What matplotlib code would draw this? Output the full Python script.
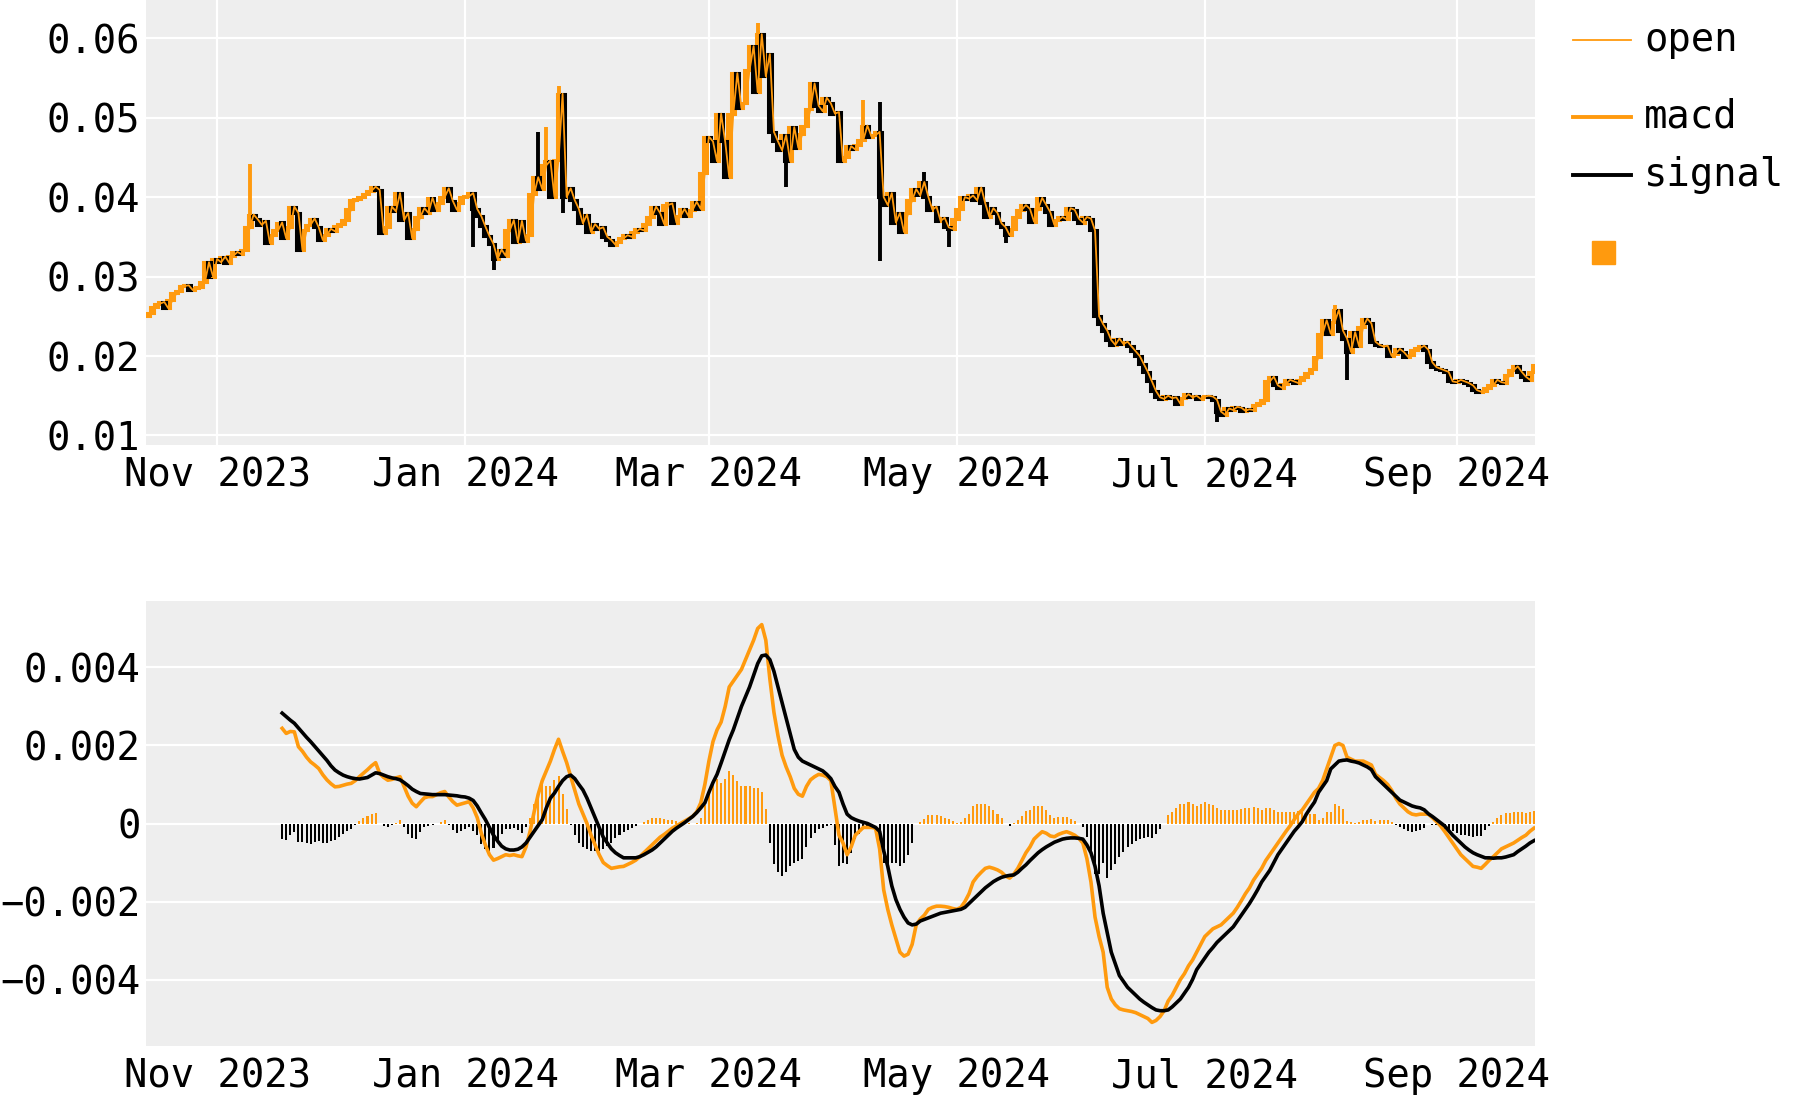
import matplotlib
matplotlib.use("Agg")
import matplotlib.pyplot as plt
from matplotlib.lines import Line2D
from matplotlib.patches import Rectangle
import numpy as np
import pandas as pd

ORANGE = "#FF9A0E"
BLACK = "#000000"
BG = "#EEEEEE"

plt.rcParams["font.family"] = ["DejaVu Sans Mono", "DejaVu Sans"]

# daily closes
close_oct = [0.0254, 0.0262, 0.0266, 0.0268, 0.0260, 0.0270, 0.0279, 0.0282, 0.0288, 0.0289,
             0.0283, 0.0285, 0.0287, 0.0293, 0.0318, 0.0300, 0.0322]
close_nov = [0.0318, 0.0325, 0.0317, 0.0326, 0.0331, 0.0328, 0.0333, 0.0362, 0.0378, 0.0372,
             0.0365, 0.0370, 0.0342, 0.0352, 0.0358, 0.0368, 0.0348, 0.0362, 0.0388, 0.0380,
             0.0333, 0.0358, 0.0365, 0.0373, 0.0362, 0.0346, 0.0352, 0.0360, 0.0357, 0.0364]
close_dec = [0.0366, 0.0371, 0.0385, 0.0396, 0.0398, 0.0400, 0.0404, 0.0408, 0.0413, 0.0409,
             0.0355, 0.0362, 0.0388, 0.0382, 0.0405, 0.0371, 0.0380, 0.0348, 0.0360, 0.0375,
             0.0386, 0.0380, 0.0399, 0.0384, 0.0392, 0.0400, 0.0411, 0.0395, 0.0384, 0.0392,
             0.0400]
close_jan = [0.0401, 0.0405, 0.0385, 0.0376, 0.0363, 0.0351, 0.0341, 0.0322, 0.0334, 0.0326,
             0.0358, 0.0371, 0.0343, 0.0370, 0.0345, 0.0352, 0.0404, 0.0425, 0.0410, 0.0440,
             0.0446, 0.0400, 0.0447, 0.0530, 0.0400, 0.0411, 0.0396, 0.0385, 0.0367, 0.0378,
             0.0356]
close_feb = [0.0366, 0.0360, 0.0362, 0.0350, 0.0346, 0.0340, 0.0344, 0.0348, 0.0352, 0.0350,
             0.0356, 0.0360, 0.0358, 0.0366, 0.0375, 0.0388, 0.0380, 0.0366, 0.0390, 0.0392,
             0.0368, 0.0376, 0.0385, 0.0376, 0.0384, 0.0394, 0.0385, 0.0430, 0.0476]
close_mar = [0.0470, 0.0445, 0.0505, 0.0470, 0.0425, 0.0505, 0.0556, 0.0512, 0.0518, 0.0560,
             0.0590, 0.0532, 0.0605, 0.0552, 0.0580, 0.0482, 0.0470, 0.0459, 0.0478, 0.0445,
             0.0488, 0.0462, 0.0480, 0.0490, 0.0511, 0.0543, 0.0515, 0.0508, 0.0525, 0.0518,
             0.0505]
close_apr = [0.0507, 0.0445, 0.0450, 0.0464, 0.0460, 0.0466, 0.0472, 0.0490, 0.0476, 0.0478,
             0.0482, 0.0400, 0.0390, 0.0405, 0.0368, 0.0380, 0.0356, 0.0380, 0.0396, 0.0410,
             0.0402, 0.0419, 0.0400, 0.0384, 0.0388, 0.0370, 0.0374, 0.0362, 0.0360, 0.0372]
close_may = [0.0385, 0.0400, 0.0398, 0.0402, 0.0396, 0.0412, 0.0392, 0.0375, 0.0386, 0.0380,
             0.0367, 0.0362, 0.0352, 0.0360, 0.0375, 0.0384, 0.0390, 0.0385, 0.0369, 0.0385,
             0.0399, 0.0390, 0.0381, 0.0365, 0.0371, 0.0375, 0.0372, 0.0386, 0.0384, 0.0373,
             0.0368]
close_jun = [0.0375, 0.0373, 0.0358, 0.0250, 0.0240, 0.0232, 0.0220, 0.0214, 0.0222, 0.0215,
             0.0218, 0.0212, 0.0206, 0.0200, 0.0190, 0.0180, 0.0168, 0.0156, 0.0148, 0.0146,
             0.0150, 0.0147, 0.0148, 0.0140, 0.0147, 0.0152, 0.0148, 0.0150, 0.0146, 0.0149]
close_jul = [0.0150, 0.0149, 0.0145, 0.0130, 0.0126, 0.0134, 0.0132, 0.0136, 0.0135, 0.0131,
             0.0133, 0.0132, 0.0138, 0.0141, 0.0145, 0.0168, 0.0174, 0.0163, 0.0160, 0.0165,
             0.0170, 0.0168, 0.0166, 0.0170, 0.0174, 0.0178, 0.0184, 0.0199, 0.0228, 0.0245,
             0.0228]
close_aug = [0.0243, 0.0258, 0.0232, 0.0222, 0.0205, 0.0230, 0.0212, 0.0237, 0.0247, 0.0241,
             0.0218, 0.0214, 0.0212, 0.0213, 0.0200, 0.0203, 0.0209, 0.0205, 0.0199, 0.0201,
             0.0208, 0.0210, 0.0213, 0.0208, 0.0192, 0.0186, 0.0184, 0.0182, 0.0180, 0.0168,
             0.0167]
close_sep = [0.0170, 0.0168, 0.0166, 0.0163, 0.0157, 0.0155, 0.0156, 0.0160, 0.0163, 0.0170,
             0.0167, 0.0166, 0.0176, 0.0182, 0.0187, 0.0180, 0.0174, 0.0170, 0.0180, 0.0189]
first_open = 0.0250

# wicks that stick out of the bodies
hi_dates = ["2023-11-09", "2024-01-19", "2024-01-21", "2024-01-24", "2024-03-13",
            "2024-04-08", "2024-04-12", "2024-04-23", "2024-08-02"]
hi_vals = [0.0441, 0.0482, 0.0488, 0.0540, 0.0619, 0.0522, 0.0520, 0.0432, 0.0264]
lo_dates = ["2023-10-31", "2024-01-03", "2024-01-08", "2024-01-25", "2024-03-20",
            "2024-04-12", "2024-04-29", "2024-05-13", "2024-07-04", "2024-08-05"]
lo_vals = [0.0298, 0.0337, 0.0308, 0.0380, 0.0413, 0.0320, 0.0337, 0.0342, 0.0117, 0.0170]

# macd / signal, daily from 2023-11-17
macd_start = "2023-11-17"
macd = [
    0.00244, 0.00231, 0.00236, 0.00235, 0.00197, 0.00185, 0.00170, 0.00158, 0.00150, 0.00141,
    0.00125, 0.00112, 0.00102, 0.00094, 0.00095, 0.00098, 0.00101, 0.00103, 0.00110, 0.00120,
    0.00129, 0.00138, 0.00148, 0.00156, 0.00128, 0.00118, 0.00111, 0.00113, 0.00117, 0.00120,
    0.00095, 0.00070, 0.00052, 0.00043, 0.00055, 0.00066, 0.00069, 0.00069, 0.00074, 0.00079,
    0.00082, 0.00068, 0.00056, 0.00047, 0.00050, 0.00053, 0.00056, 0.00040, 0.00015, -0.00025,
    -0.00055, -0.00080, -0.00094, -0.00090, -0.00085, -0.00080, -0.00082, -0.00080, -0.00083, -0.00085,
    -0.00060, -0.00020, 0.00030, 0.00075, 0.00110, 0.00135, 0.00160, 0.00190, 0.00216, 0.00185,
    0.00156, 0.00120, 0.00085, 0.00050, 0.00025, 0.00000, -0.00030, -0.00055, -0.00080, -0.00100,
    -0.00108, -0.00115, -0.00113, -0.00111, -0.00110, -0.00105, -0.00100, -0.00094, -0.00085, -0.00075,
    -0.00065, -0.00055, -0.00045, -0.00035, -0.00028, -0.00020, -0.00012, -0.00006, 0.00000, 0.00006,
    0.00012, 0.00018, 0.00030, 0.00053, 0.00100, 0.00160, 0.00210, 0.00240, 0.00260, 0.00300,
    0.00350, 0.00365, 0.00380, 0.00395, 0.00420, 0.00445, 0.00470, 0.00500, 0.00510, 0.00470,
    0.00370, 0.00285, 0.00225, 0.00175, 0.00145, 0.00120, 0.00090, 0.00075, 0.00070, 0.00095,
    0.00112, 0.00120, 0.00126, 0.00124, 0.00120, 0.00110, 0.00040, -0.00030, -0.00050, -0.00080,
    -0.00060, -0.00030, -0.00020, -0.00010, -0.00010, -0.00010, -0.00012, -0.00065, -0.00170, -0.00220,
    -0.00260, -0.00295, -0.00330, -0.00340, -0.00335, -0.00310, -0.00260, -0.00245, -0.00235, -0.00220,
    -0.00215, -0.00212, -0.00212, -0.00213, -0.00215, -0.00218, -0.00220, -0.00215, -0.00200, -0.00180,
    -0.00150, -0.00136, -0.00125, -0.00115, -0.00112, -0.00115, -0.00119, -0.00125, -0.00135, -0.00140,
    -0.00130, -0.00115, -0.00095, -0.00075, -0.00060, -0.00040, -0.00030, -0.00021, -0.00025, -0.00032,
    -0.00034, -0.00028, -0.00024, -0.00021, -0.00025, -0.00030, -0.00038, -0.00050, -0.00090, -0.00150,
    -0.00240, -0.00290, -0.00330, -0.00420, -0.00450, -0.00465, -0.00475, -0.00478, -0.00480, -0.00482,
    -0.00485, -0.00490, -0.00495, -0.00500, -0.00510, -0.00505, -0.00495, -0.00480, -0.00455, -0.00440,
    -0.00420, -0.00400, -0.00385, -0.00365, -0.00350, -0.00330, -0.00310, -0.00290, -0.00280, -0.00270,
    -0.00265, -0.00260, -0.00250, -0.00240, -0.00230, -0.00215, -0.00198, -0.00180, -0.00165, -0.00145,
    -0.00130, -0.00115, -0.00095, -0.00080, -0.00065, -0.00050, -0.00035, -0.00020, -0.00006, 0.00010,
    0.00025, 0.00035, 0.00050, 0.00065, 0.00080, 0.00090, 0.00110, 0.00140, 0.00170, 0.00200,
    0.00205, 0.00200, 0.00170, 0.00165, 0.00160, 0.00160, 0.00160, 0.00155, 0.00150, 0.00126,
    0.00118, 0.00110, 0.00100, 0.00085, 0.00065, 0.00050, 0.00040, 0.00030, 0.00024, 0.00022,
    0.00024, 0.00024, 0.00024, 0.00015, 0.00005, -0.00006, -0.00020, -0.00035, -0.00050, -0.00065,
    -0.00080, -0.00090, -0.00100, -0.00110, -0.00112, -0.00115, -0.00105, -0.00094, -0.00085, -0.00075,
    -0.00065, -0.00060, -0.00055, -0.00050, -0.00043, -0.00036, -0.00030, -0.00020, -0.00012,
]
signal = [
    0.00283, 0.00274, 0.00265, 0.00257, 0.00245, 0.00233, 0.00221, 0.00210, 0.00198, 0.00186,
    0.00174, 0.00162, 0.00148, 0.00137, 0.00130, 0.00124, 0.00120, 0.00117, 0.00115, 0.00114,
    0.00116, 0.00118, 0.00124, 0.00130, 0.00128, 0.00124, 0.00120, 0.00117, 0.00115, 0.00112,
    0.00105, 0.00097, 0.00088, 0.00082, 0.00077, 0.00076, 0.00075, 0.00074, 0.00074, 0.00074,
    0.00074, 0.00073, 0.00072, 0.00071, 0.00069, 0.00068, 0.00065, 0.00059, 0.00045, 0.00027,
    0.00010, -0.00010, -0.00030, -0.00045, -0.00058, -0.00065, -0.00068, -0.00068, -0.00066, -0.00060,
    -0.00050, -0.00035, -0.00020, -0.00005, 0.00010, 0.00040, 0.00065, 0.00078, 0.00095, 0.00110,
    0.00120, 0.00124, 0.00115, 0.00100, 0.00086, 0.00065, 0.00040, 0.00015, -0.00010, -0.00035,
    -0.00050, -0.00065, -0.00075, -0.00082, -0.00088, -0.00088, -0.00088, -0.00088, -0.00085, -0.00080,
    -0.00074, -0.00068, -0.00060, -0.00050, -0.00040, -0.00030, -0.00020, -0.00012, -0.00005, 0.00002,
    0.00010, 0.00018, 0.00028, 0.00040, 0.00053, 0.00080, 0.00105, 0.00126, 0.00155, 0.00185,
    0.00215, 0.00240, 0.00270, 0.00300, 0.00325, 0.00350, 0.00380, 0.00410, 0.00430, 0.00432,
    0.00420, 0.00390, 0.00350, 0.00310, 0.00270, 0.00230, 0.00190, 0.00170, 0.00160, 0.00155,
    0.00150, 0.00145, 0.00140, 0.00135, 0.00126, 0.00115, 0.00095, 0.00080, 0.00050, 0.00024,
    0.00015, 0.00010, 0.00006, 0.00003, 0.00000, -0.00005, -0.00010, -0.00020, -0.00070, -0.00110,
    -0.00160, -0.00195, -0.00220, -0.00240, -0.00255, -0.00260, -0.00258, -0.00250, -0.00246, -0.00242,
    -0.00238, -0.00234, -0.00230, -0.00228, -0.00226, -0.00224, -0.00222, -0.00220, -0.00215, -0.00205,
    -0.00195, -0.00185, -0.00175, -0.00165, -0.00157, -0.00149, -0.00143, -0.00138, -0.00135, -0.00133,
    -0.00132, -0.00125, -0.00115, -0.00106, -0.00095, -0.00085, -0.00075, -0.00067, -0.00060, -0.00054,
    -0.00048, -0.00044, -0.00040, -0.00038, -0.00037, -0.00037, -0.00038, -0.00040, -0.00055, -0.00075,
    -0.00110, -0.00160, -0.00230, -0.00280, -0.00330, -0.00360, -0.00390, -0.00405, -0.00420, -0.00430,
    -0.00440, -0.00450, -0.00458, -0.00465, -0.00472, -0.00478, -0.00480, -0.00480, -0.00478, -0.00470,
    -0.00460, -0.00450, -0.00435, -0.00420, -0.00400, -0.00375, -0.00360, -0.00345, -0.00330, -0.00318,
    -0.00305, -0.00295, -0.00285, -0.00275, -0.00265, -0.00250, -0.00235, -0.00220, -0.00205, -0.00188,
    -0.00170, -0.00150, -0.00135, -0.00120, -0.00100, -0.00080, -0.00065, -0.00050, -0.00035, -0.00020,
    -0.00008, 0.00005, 0.00024, 0.00040, 0.00055, 0.00080, 0.00095, 0.00110, 0.00140, 0.00150,
    0.00160, 0.00162, 0.00163, 0.00160, 0.00158, 0.00155, 0.00150, 0.00145, 0.00138, 0.00120,
    0.00110, 0.00100, 0.00090, 0.00080, 0.00070, 0.00060, 0.00055, 0.00050, 0.00045, 0.00042,
    0.00040, 0.00035, 0.00025, 0.00018, 0.00010, 0.00002, -0.00006, -0.00018, -0.00030, -0.00040,
    -0.00050, -0.00060, -0.00068, -0.00075, -0.00080, -0.00084, -0.00088, -0.00088, -0.00089, -0.00088,
    -0.00088, -0.00086, -0.00083, -0.00080, -0.00072, -0.00065, -0.00058, -0.00050, -0.00044,
]

tick_dates = ["2023-11-01", "2024-01-01", "2024-03-01", "2024-05-01", "2024-07-01", "2024-09-01"]
tick_labels = ["Nov 2023", "Jan 2024", "Mar 2024", "May 2024", "Jul 2024", "Sep 2024"]
price_ticks = [0.01, 0.02, 0.03, 0.04, 0.05, 0.06]
macd_ticks = [-0.004, -0.002, 0, 0.002, 0.004]
macd_tick_labels = ["\u22120.004", "\u22120.002", "0", "0.002", "0.004"]


close = np.array(close_oct + close_nov + close_dec + close_jan + close_feb + close_mar +
                 close_apr + close_may + close_jun + close_jul + close_aug + close_sep)
dates = pd.date_range("2023-10-15", periods=len(close), freq="D")
opens = np.concatenate([[first_open], close[:-1]])

mdates_ = pd.date_range(macd_start, periods=len(macd), freq="D")
macd = np.array(macd)
signal = np.array(signal)
hist = macd - signal

fig = plt.figure(figsize=(18, 11), dpi=100)
ax1 = fig.add_axes([146 / 1800, 1 - 445 / 1100, 1389 / 1800, 445 / 1100])
ax2 = fig.add_axes([146 / 1800, 1 - 1046 / 1100, 1389 / 1800, 445 / 1100])

xlim = (pd.Timestamp("2023-10-14 12:00"), pd.Timestamp("2024-09-20 06:00"))
ticks = pd.to_datetime(tick_dates)

for ax in (ax1, ax2):
    ax.set_facecolor(BG)
    for s in ax.spines.values():
        s.set_visible(False)
    ax.set_xlim(*xlim)
    ax.set_xticks(ticks)
    ax.set_xticklabels(tick_labels)
    ax.tick_params(length=0, labelsize=28, pad=4)
    ax.tick_params(axis="x", pad=8)
    ax.set_axisbelow(True)

# --- candles
up = close >= opens
body_lo = np.minimum(opens, close)
body_h = np.abs(close - opens)
for mask, col in ((up, ORANGE), (~up, BLACK)):
    ax1.bar(dates[mask], body_h[mask], bottom=body_lo[mask], width=0.95,
            color=col, edgecolor=col, linewidth=2.2, zorder=2)

idx = {d: i for i, d in enumerate(dates)}
for dlist, vals in ((hi_dates, hi_vals), (lo_dates, lo_vals)):
    for d, v in zip(dlist, vals):
        i = idx[pd.Timestamp(d)]
        col = ORANGE if up[i] else BLACK
        edge = max(opens[i], close[i]) if v > close[i] else min(opens[i], close[i])
        ax1.vlines(dates[i], min(v, edge), max(v, edge), color=col, lw=2.8, zorder=2)

ax1.plot(dates, opens, color=ORANGE, lw=1.3, zorder=3)
ax1.set_ylim(0.0088, 0.0648)
ax1.set_yticks(price_ticks)
ax1.set_yticklabels([f"{t:.2f}" for t in price_ticks])
ax1.grid(True, color="white", lw=1.6)

# --- macd panel
pos = hist >= 0
ax2.bar(mdates_[pos], hist[pos], width=0.5, color=ORANGE, zorder=2)
ax2.bar(mdates_[~pos], hist[~pos], width=0.5, color=BLACK, zorder=2)
ax2.plot(mdates_, macd, color=ORANGE, lw=2.6, zorder=3)
ax2.plot(mdates_, signal, color=BLACK, lw=2.6, zorder=4)
ax2.set_ylim(-0.005705, 0.005705)
ax2.set_yticks(macd_ticks)
ax2.set_yticklabels(macd_tick_labels)
ax2.grid(True, axis="y", color="white", lw=1.6)
ax2.grid(False, axis="x")

# --- legend (drawn by hand to keep the uneven spacing)
def fy(y):
    return 1 - y / 1100

entries = [("open", ORANGE, 1.3, 40), ("macd", ORANGE, 2.8, 117), ("signal", BLACK, 2.8, 175)]
for label, col, lw, y in entries:
    fig.add_artist(Line2D([1573 / 1800, 1631 / 1800], [fy(y), fy(y)], color=col, lw=lw,
                          transform=fig.transFigure))
    fig.text(1644 / 1800, fy(y), label, fontsize=28, va="center", ha="left")
fig.add_artist(Rectangle((1592 / 1800, fy(264)), 23 / 1800, 23 / 1100, color=ORANGE,
                         transform=fig.transFigure))

fig.savefig("out.png", dpi=100)
